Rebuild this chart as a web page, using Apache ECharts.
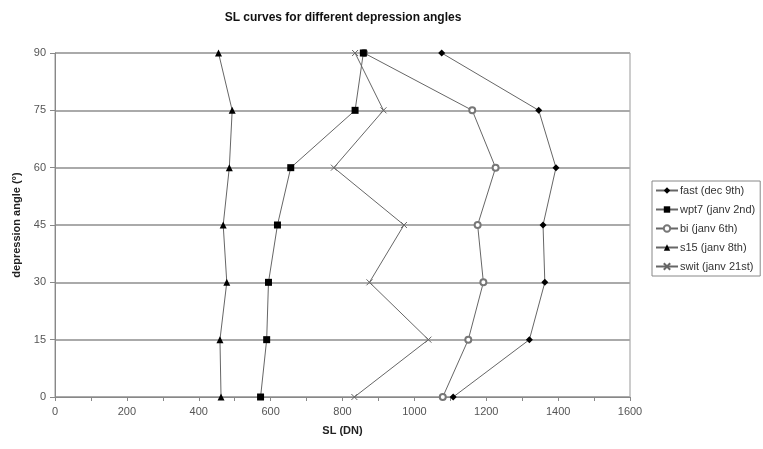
<!DOCTYPE html>
<html>
<head>
<meta charset="utf-8">
<script src="https://cdn.jsdelivr.net/npm/echarts@6/dist/echarts.min.js"></script>
<style>html,body{margin:0;padding:0;background:#fff}#c{width:763px;height:449px}</style>
</head>
<body>
<div id="c"></div>
<script>
var angles = [0, 15, 30, 45, 60, 75, 90];
var fast = [1108, 1320, 1363, 1358, 1394, 1346, 1076];
var wpt7 = [572, 589, 594, 619, 656, 835, 858];
var bi = [1079, 1150, 1192, 1176, 1226, 1161, 860];
var s15 = [462, 459, 478, 468, 485, 493, 455];
var swit = [833, 1039, 875, 971, 776, 914, 835];
var seriesNames = ['fast (dec 9th)', 'wpt7 (janv 2nd)', 'bi (janv 6th)', 's15 (janv 8th)', 'swit (janv 21st)'];
var xTicks = [0, 200, 400, 600, 800, 1000, 1200, 1400, 1600];
var yTicks = [0, 15, 30, 45, 60, 75, 90];

function pts(arr) { return arr.map(function (v, i) { return [v, angles[i]]; }); }

var xPath = 'path://M0,0L10,10M10,0L0,10';
var font = 'Liberation Sans, Arial, sans-serif';

var defs = [
  { data: fast, symbol: 'diamond', size: 7, item: { color: '#000' }, z: 5 },
  { data: wpt7, symbol: 'rect', size: 7, item: { color: '#000' }, z: 9 },
  { data: bi, symbol: 'emptyCircle', size: 6, item: { color: '#777', borderWidth: 1 }, z: 4 },
  { data: s15, symbol: 'triangle', size: 7, item: { color: '#000' }, z: 6 },
  { data: swit, symbol: xPath, size: 6, item: { color: 'rgba(0,0,0,0)', borderColor: '#666', borderWidth: 1 }, z: 3 }
];

var series = defs.map(function (d, i) {
  return {
    name: seriesNames[i],
    type: 'line',
    data: pts(d.data),
    symbol: d.symbol,
    symbolSize: d.size,
    showAllSymbol: true,
    lineStyle: { color: '#666', width: 1 },
    itemStyle: d.item,
    emphasis: { disabled: true },
    z: d.z
  };
});

var chart = echarts.init(document.getElementById('c'), null, { renderer: 'canvas' });
chart.setOption({
  animation: false,
  backgroundColor: '#fff',
  title: {
    text: 'SL curves for different depression angles',
    left: 338, top: 7, textAlign: 'center',
    textStyle: { fontFamily: font, fontSize: 12, fontWeight: 'bold', color: '#111' }
  },
  grid: { left: 55, right: 133, top: 53, bottom: 52, show: true, borderColor: '#999', borderWidth: 1 },
  legend: {
    orient: 'vertical',
    left: 652, top: 181,
    itemWidth: 22, itemHeight: 8, itemGap: 8,
    padding: [4, 5, 4, 3],
    borderColor: '#888', borderWidth: 1,
    textStyle: { fontFamily: font, fontSize: 11, color: '#333', padding: [0, 0, 0, -3] },
    data: seriesNames
  },
  xAxis: {
    type: 'value', min: 0, max: 1600, interval: 200,
    name: 'SL (DN)', nameLocation: 'middle', nameGap: 28,
    nameTextStyle: { fontFamily: font, fontSize: 11, fontWeight: 'bold', color: '#222' },
    axisLine: { show: true, lineStyle: { color: '#888' } },
    axisTick: { show: true, length: 4, lineStyle: { color: '#888' } },
    minorTick: { show: true, splitNumber: 2, length: 4, lineStyle: { color: '#888' } },
    splitLine: { show: false },
    axisLabel: { fontFamily: font, fontSize: 11, color: '#555', margin: 9,
      formatter: function (v) { return xTicks.indexOf(v) >= 0 ? String(v) : ''; } }
  },
  yAxis: {
    type: 'value', min: 0, max: 90, interval: 15,
    name: 'depression angle (°)', nameLocation: 'middle', nameGap: 33, nameRotate: 90,
    nameTextStyle: { fontFamily: font, fontSize: 11, fontWeight: 'bold', color: '#222' },
    axisLine: { show: true, lineStyle: { color: '#888' } },
    axisTick: { show: true, length: 5, lineStyle: { color: '#888' } },
    splitLine: { show: true, lineStyle: { color: '#aaa', width: 2 } },
    axisLabel: { fontFamily: font, fontSize: 11, color: '#555', margin: 9,
      formatter: function (v) { return yTicks.indexOf(v) >= 0 ? String(v) : ''; } }
  },
  series: series
});
</script>
</body>
</html>
